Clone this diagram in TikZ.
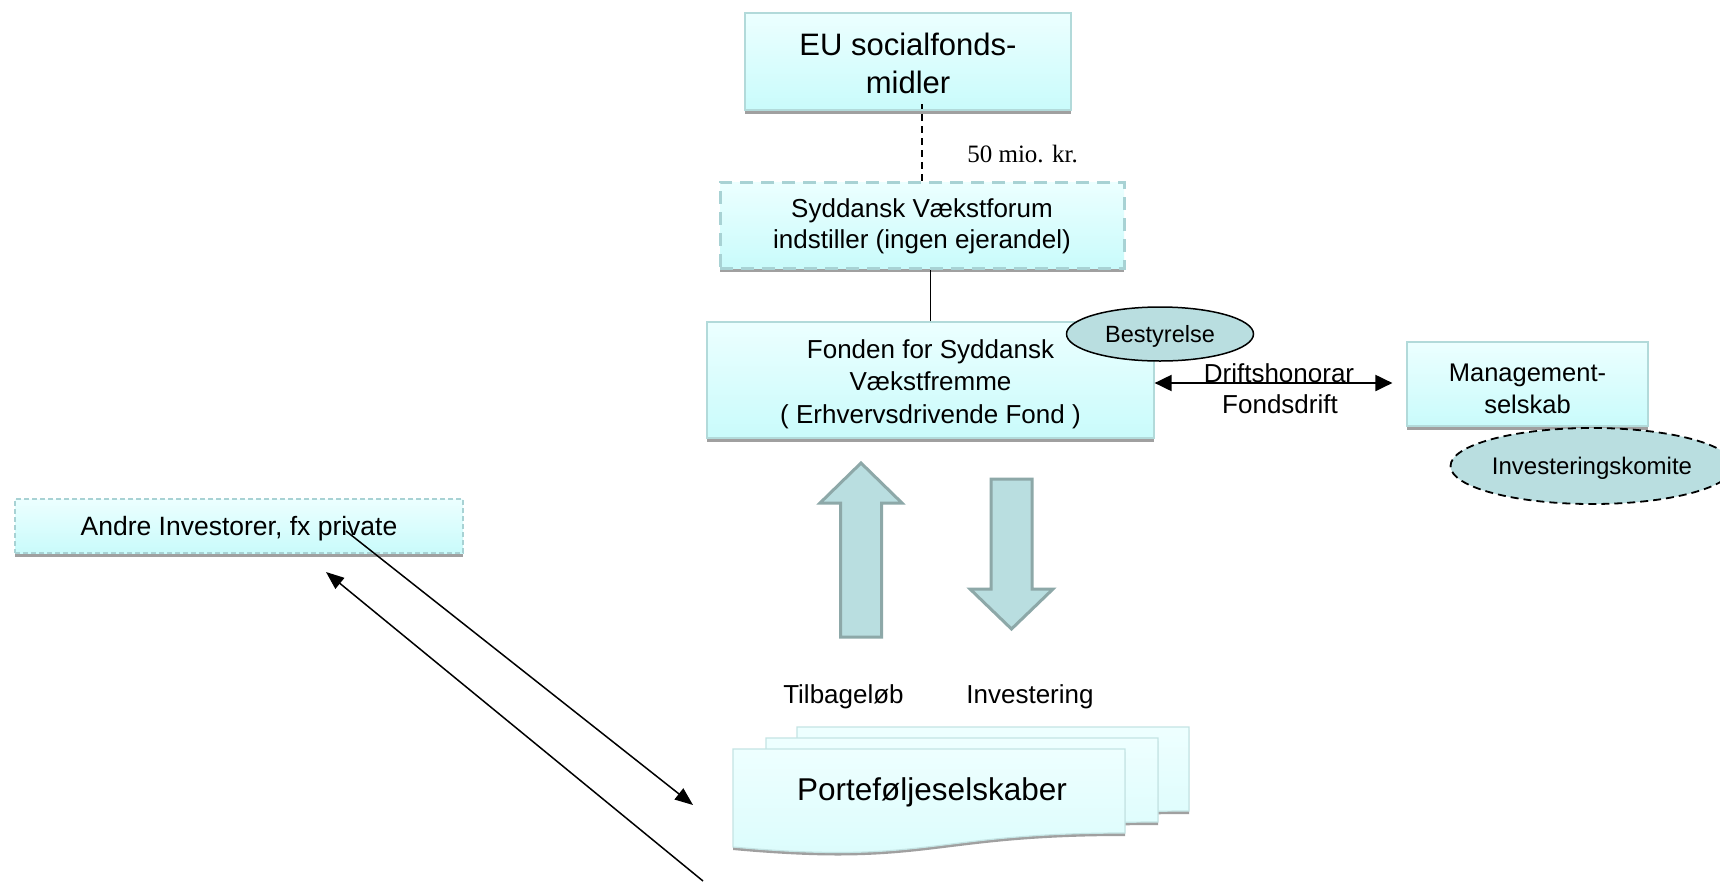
\documentclass[tikz,border=0pt]{standalone}
\usepackage{fontspec}
\setmainfont{Liberation Sans}
\newfontfamily\serifTimes{Liberation Serif}
\usetikzlibrary{arrows.meta,shapes.geometric,shadows}
\definecolor{boxtop}{HTML}{ECFFFF}
\definecolor{boxbot}{HTML}{C9FBFB}
\definecolor{boxline}{HTML}{B2DADA}
\definecolor{dashline}{HTML}{A8D2D4}
\definecolor{ellfill}{HTML}{B9DEE0}
\definecolor{arrline}{HTML}{8DA8A8}
\definecolor{shadowc}{HTML}{A0A0A0}
\definecolor{doctop}{HTML}{EEFFFF}
\definecolor{docbot}{HTML}{DAFCFC}
\definecolor{docline}{HTML}{C4E4E4}
\newcommand{\docshape}[3]{%
  \path[#1] (#2,#3) -- ++(392,0) -- ++(0,84) .. controls +(-196,0) and +(196,18) .. ++(-392,14) -- cycle;}
\begin{document}
\begin{tikzpicture}[x=1pt,y=-1pt,
  fbox/.style={draw=boxline, line width=1.2pt, top color=boxtop, bottom color=boxbot,
    inner sep=0pt, align=center,
    drop shadow={shadow xshift=0pt,shadow yshift=-4pt,fill=shadowc,opacity=1}},
  dbox/.style={fbox, draw=dashline},
  bodyfont/.style={font=\fontsize{26pt}{32.5pt}\selectfont},
  ell/.style={ellipse, fill=ellfill, draw=black, inner sep=0pt, text depth=0pt,
    font=\fontsize{23.5pt}{28pt}\selectfont},
  bigarrow/.style={fill=ellfill, draw=arrline, line width=3pt, line join=miter},
  arr/.style={-{Triangle[length=18pt,width=14pt]}, line width=1.5pt},
  lbl/.style={anchor=base, inner sep=0pt, font=\fontsize{26pt}{30pt}\selectfont}
]
\fill[white] (0,0) rectangle (1720,881);
\useasboundingbox (0,0) rectangle (1720,881);

% boxes
\node[fbox, minimum width=326pt, minimum height=97pt, text height=63pt, text depth=0pt,
  font=\fontsize{31pt}{38pt}\selectfont] (eu) at (908,61.5) {EU socialfonds-\\midler};
\node[dbox, line width=3pt, dash pattern=on 13pt off 8pt, minimum width=404pt, minimum height=86pt,
  text height=51.5pt, text depth=5.5pt, font=\fontsize{26pt}{31pt}\selectfont] (syd) at (922,225)
  {Syddansk Vækstforum\\indstiller (ingen ejerandel)};
\node[fbox, minimum width=447pt, minimum height=116pt, text height=91.5pt, text depth=5.5pt, bodyfont] (fonden) at (930.5,380)
  {Fonden for Syddansk\\Vækstfremme\\( Erhvervsdrivende Fond )};
\node[fbox, minimum width=241pt, minimum height=84pt, text height=58pt, text depth=0pt,
  font=\fontsize{25.5pt}{32pt}\selectfont] (mgmt) at (1527.5,384) {Management-\\selskab};
\node[dbox, line width=1.2pt, dash pattern=on 5pt off 3pt, minimum width=448pt, minimum height=54pt,
  text height=23.6pt, text depth=5.6pt, font=\fontsize{26.5pt}{30pt}\selectfont] (andre) at (239,526)
  {Andre Investorer, fx private};

% ellipses
\node[ell, line width=1.5pt, minimum width=187pt, minimum height=54pt] (best) at (1160,334) {Bestyrelse};
\node[ell, line width=1.8pt, dash pattern=on 8pt off 5pt, minimum width=214pt, minimum height=76pt,
  font=\fontsize{24pt}{28pt}\selectfont] (invk) at (1592,466) {Investeringskomite};

% connectors top
\draw[line width=1.5pt, dash pattern=on 7pt off 5pt] (syd.north) -- ([yshift=7pt]syd.north |- eu.south);
\draw[line width=1.5pt] (fonden.north) -- (fonden.north |- syd.south);
\node[anchor=base, inner sep=0pt, font=\serifTimes\fontsize{25pt}{30pt}\selectfont] (mio) at (1022.5,162) {50 mio. kr.};

% double arrow
\draw[{Triangle[length=17pt,width=16pt]}-{Triangle[length=17pt,width=16pt]}, line width=2pt, shorten >=14pt]
  ([yshift=-3pt]fonden.east) -- ([yshift=1pt]mgmt.west);
\node[lbl] (drift) at (1279,382) {Driftshonorar};
\node[lbl] (fdrift) at (1280,413) {Fondsdrift};

% big arrows
\filldraw[bigarrow] (861,463) -- (902,503) -- (881.5,503) -- (881.5,637) -- (840.5,637) -- (840.5,503) -- (820,503) -- cycle;
\filldraw[bigarrow] (991,479) -- (1032,479) -- (1032,589) -- (1053,589) -- (1011.5,629) -- (970,589) -- (991,589) -- cycle;
\node[lbl] (tilb) at (843.5,703) {Tilbageløb};
\node[lbl] (inv) at (1030,703) {Investering};

% portfolio stack
\docshape{fill=shadowc, yshift=-3pt}{797}{727}
\docshape{draw=docline, line width=1.2pt, top color=doctop, bottom color=docbot}{797}{727}
\docshape{fill=shadowc, yshift=-3pt}{766}{738}
\docshape{draw=docline, line width=1.2pt, top color=doctop, bottom color=docbot}{766}{738}
\docshape{fill=shadowc, yshift=-3pt}{733}{749}
\docshape{draw=docline, line width=1.2pt, top color=doctop, bottom color=docbot}{733}{749}
\node[anchor=base, inner sep=0pt, font=\fontsize{31.5pt}{38pt}\selectfont] (port) at (932,800) {Porteføljeselskaber};

% diagonal arrows
\coordinate (a1) at (346,531);
\coordinate (a2) at (693,805);
\coordinate (b1) at (703,881);
\coordinate (b2) at (326,572);
\draw[arr] (a1) -- (a2);
\draw[arr] (b1) -- (b2);
\end{tikzpicture}
\end{document}
